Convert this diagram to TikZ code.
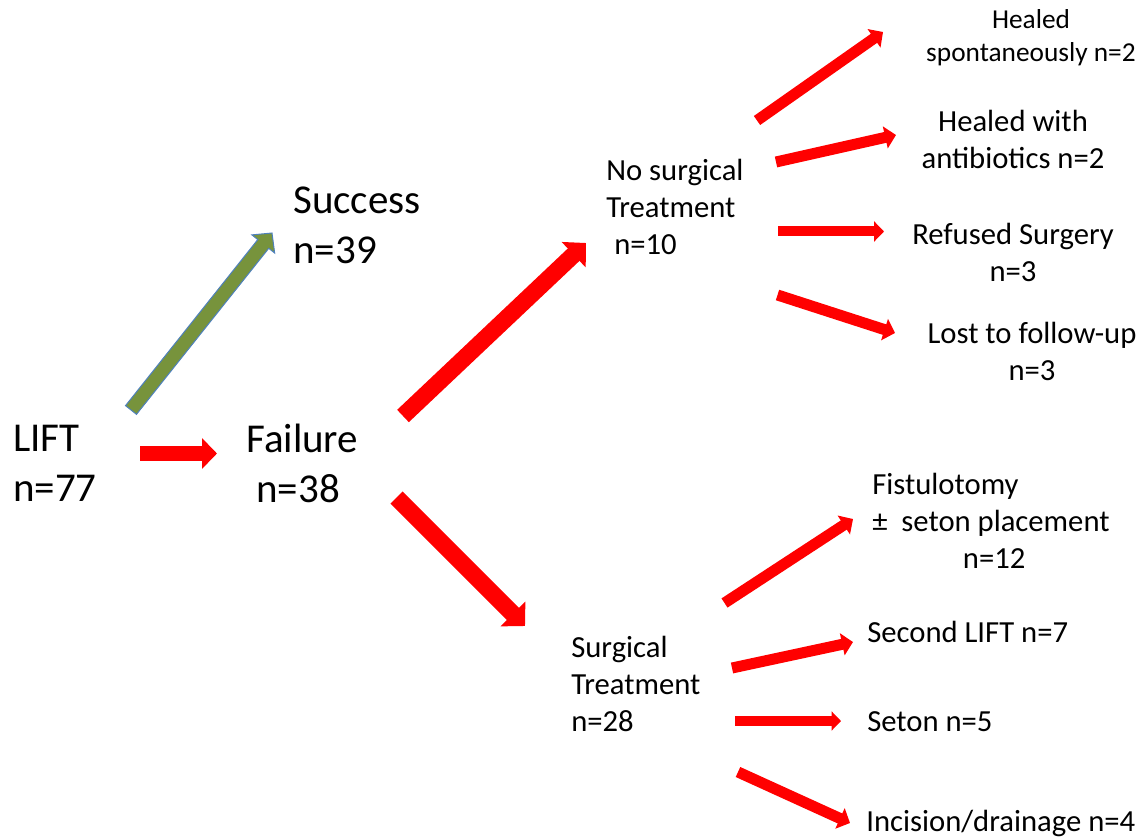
\documentclass[tikz,border=0pt]{standalone}
\usepackage{fontspec}
\setmainfont{Carlito}
\usetikzlibrary{arrows.meta,calc}
\definecolor{olive}{RGB}{119,147,60}
\definecolor{rim}{RGB}{79,129,189}

\begin{document}
\begin{tikzpicture}
	[
		x                   = 0.75pt,
		y                   = -0.75pt,
		every node/.style   = {inner sep=0pt, font=\fontsize{23}{27.75}\selectfont},
		big/.style          = {font=\fontsize{30.75}{37.5}\selectfont},
		small/.style        = {font=\fontsize{20.5}{24.75}\selectfont},
		flow/.style         = {draw=red, line width=#1, -{Triangle[length=0pt 1, width=0pt 2]}}
	]
	\useasboundingbox (0,0) rectangle (1137,837);

	% first split
	\node [big, anchor=west, align=left]  (lift)    at (13,463)  {LIFT\\n=77};
	\node [big, anchor=west, align=left]  (success) at (293,225) {Success\\n=39};
	\node [big, anchor=west, align=left]  (failure) at (246,463) {Failure\\\hspace*{7.5pt}n=38};

	% second split
	\node [anchor=west, align=left] (nosurg) at (606,207) {No surgical\\Treatment\\\hspace*{6pt}n=10};
	\node [anchor=west, align=left] (surg)   at (571,684) {Surgical\\Treatment\\n=28};

	% outcomes without surgery
	\node [small, align=center] (spont)   at (1031,38)  {Healed\\spontaneously n=2};
	\node [align=center]        (antib)   at (1013,139) {Healed with\\antibiotics n=2};
	\node [align=center]        (refused) at (1013,252) {Refused Surgery\\n=3};
	\node [align=center]        (lost)    at (1032,351) {Lost to follow-up\\n=3};

	% outcomes with surgery
	\node [anchor=west, align=left] (fistula)  at (872,521) {Fistulotomy\\±\ \ seton placement\\\hspace*{68pt}n=12};
	\node [anchor=west]             (second)   at (867,632) {Second LIFT n=7};
	\node [anchor=west]             (seton)    at (867,722) {Seton n=5};
	\node [anchor=west]             (incision) at (866,823) {Incision/drainage n=4};

	% arrow ends
	\coordinate (lift-s)  at (131,410);
	\coordinate (succ-t)  at (272,233);
	\coordinate (succ-b)  at ($(succ-t)!10.5pt!(lift-s)$);
	\coordinate (lift-o)  at (140,453.5);
	\coordinate (fail-i)  at (217,453.5);
	\coordinate (fail-u)  at (403,416);
	\coordinate (nos-i)   at (586,243);
	\coordinate (fail-d)  at (396.5,497.5);
	\coordinate (surg-i)  at (525,626);
	\coordinate (nos-1)   at (757,120.5);
	\coordinate (spont-i) at (883,32);
	\coordinate (nos-2)   at (776,162);
	\coordinate (antib-i) at (896,135);
	\coordinate (nos-3)   at (778,231.5);
	\coordinate (ref-i)   at (884,231.5);
	\coordinate (nos-4)   at (777.5,295);
	\coordinate (lost-i)  at (895,333);
	\coordinate (surg-1)  at (724.5,603);
	\coordinate (fist-i)  at (853,519);
	\coordinate (surg-2)  at (732,668);
	\coordinate (sec-i)   at (853,642);
	\coordinate (surg-3)  at (735,721);
	\coordinate (set-i)   at (841,721);
	\coordinate (surg-4)  at (738,772);
	\coordinate (inc-i)   at (850,823);

	% green block arrow with rim
	\filldraw [fill=olive, draw=rim, line width=0.75pt, line join=miter]
		($(lift-s)!5.25pt!90:(succ-t)$) -- ($(succ-b)!5.25pt!90:(succ-t)$)
		-- ($(succ-b)!10.9pt!90:(succ-t)$) -- (succ-t)
		-- ($(succ-b)!10.9pt!-90:(succ-t)$) -- ($(succ-b)!5.25pt!-90:(succ-t)$)
		-- ($(lift-s)!5.25pt!-90:(succ-t)$) -- cycle;

	% red arrows
	\draw [flow=11.25pt] (lift-o) -- (fail-i);
	\draw [flow=12.75pt] (fail-u) -- (nos-i);
	\draw [flow=12.75pt] (fail-d) -- (surg-i);
	\draw [flow=8.25pt]  (nos-1)  -- (spont-i);
	\draw [flow=8.25pt]  (nos-2)  -- (antib-i);
	\draw [flow=7.5pt]   (nos-3)  -- (ref-i);
	\draw [flow=8.25pt]  (nos-4)  -- (lost-i);
	\draw [flow=8.25pt]  (surg-1) -- (fist-i);
	\draw [flow=8.25pt]  (surg-2) -- (sec-i);
	\draw [flow=7pt]     (surg-3) -- (set-i);
	\draw [flow=8.25pt]  (surg-4) -- (inc-i);
\end{tikzpicture}
\end{document}
